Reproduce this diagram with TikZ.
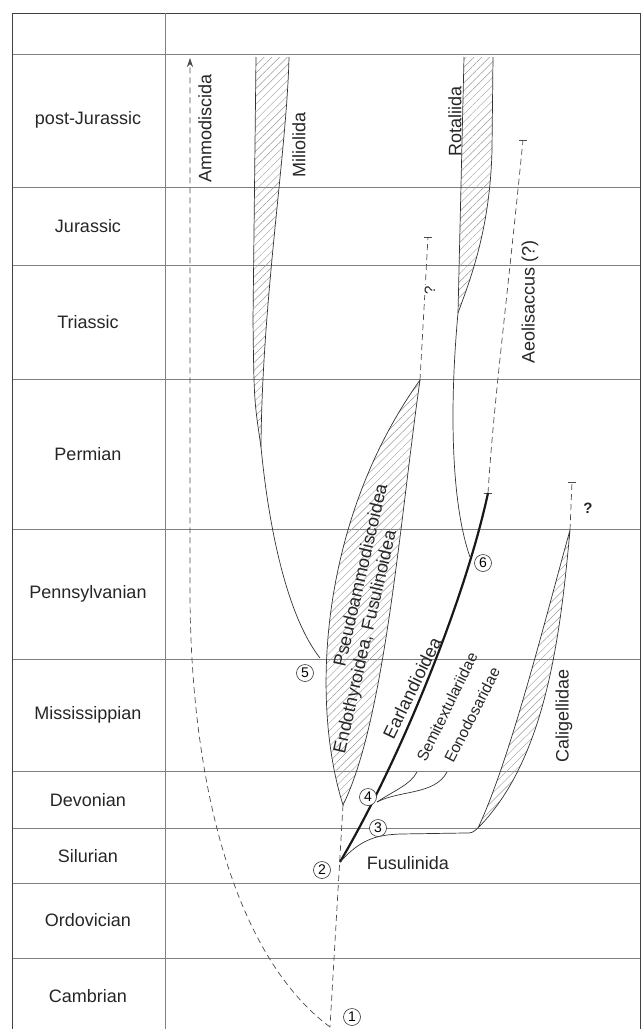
\documentclass[tikz,border=0pt]{standalone}
\usepackage{fontspec}
\setmainfont{Liberation Sans}
\usetikzlibrary{patterns.meta,arrows.meta}
\begin{document}
\begin{tikzpicture}[x=1pt,y=-1pt,
  grid/.style={draw=black!50,line width=0.7pt},
  frame/.style={draw=black!75,line width=0.9pt},
  branch/.style={draw=black!80,line width=0.7pt},
  thickbranch/.style={draw=black!90,line width=2.2pt},
  dashbranch/.style={draw=black!70,line width=0.7pt,dash pattern=on 6pt off 4pt},
  hatch/.style={pattern={Lines[angle=45,distance=5.5pt,line width=0.45pt]},pattern color=black!40},
  period/.style={font=\fontsize{18}{20}\selectfont,text=black!85},
  taxon/.style={font=\fontsize{18}{20}\selectfont,text=black!85,inner sep=0pt},
  smalltaxon/.style={font=\fontsize{15.5}{18}\selectfont,text=black!85,inner sep=0pt},
  num/.style={circle,draw=black!80,fill=white,line width=0.6pt,inner sep=0pt,minimum size=17pt,font=\fontsize{14}{14}\selectfont},
  endtick/.style={draw=black!70,line width=0.7pt}
]
\useasboundingbox (0,0) rectangle (642,1029);
% ---- grid ----
\foreach \yy in {54,187,265,379,529,659,771,828,883,958}
  \draw[grid] (12,\yy) -- (640,\yy);
\draw[frame] (12,1029) -- (12,13) -- (640,13) -- (640,1029);
\draw[grid] (165,13) -- (165,1029);
% ---- period labels ----
\node[period] (pj) at (88,120) {post-Jurassic};
\node[period] (ju) at (88,226) {Jurassic};
\node[period] (tr) at (88,322) {Triassic};
\node[period] (pe) at (88,454) {Permian};
\node[period] (pn) at (88,594) {Pennsylvanian};
\node[period] (mi) at (88,715) {Mississippian};
\node[period] (de) at (88,800) {Devonian};
\node[period] (si) at (88,856) {Silurian};
\node[period] (or) at (88,920) {Ordovician};
\node[period] (ca) at (88,996) {Cambrian};
% ---- key coordinates ----
\coordinate (root) at (330,1027);
\coordinate (lensBot) at (343,805);
\coordinate (lensTop) at (420,380);
\coordinate (j2) at (340,862);
\coordinate (j4) at (377,802);
\coordinate (j5) at (320,658);
\coordinate (j6) at (470,557);
\coordinate (thickTop) at (488,493);
\coordinate (caliBot) at (478,828);
\coordinate (caliTop) at (570,530);
\coordinate (ammTop) at (190,58);
\coordinate (pseTop) at (428,237);
\coordinate (aeoTop) at (523,140);
\coordinate (calTick) at (572,482);
\coordinate (semiEnd) at (417,772);
\coordinate (eonoEnd) at (447,772);
\coordinate (milJ) at (261,447);
\coordinate (rotJ) at (458,313);
% ---- Miliolida ----
\path[hatch] (256,57) -- (289,57) .. controls (287,150) and (262,300) .. (milJ)
  .. controls (254,400) .. (253,320) -- cycle;
\draw[branch] (256,57) -- (253,320) .. controls (254,400) .. (milJ)
  .. controls (270,540) and (290,620) .. (j5);
\draw[branch] (289,57) .. controls (287,150) and (262,300) .. (milJ);
% ---- Rotaliida ----
\path[hatch] (464,57) -- (493,57) -- (492,150) .. controls (490,230) and (470,280) .. (rotJ) -- cycle;
\draw[branch] (493,57) -- (492,150) .. controls (490,230) and (470,280) .. (rotJ);
\draw[branch] (464,57) -- (rotJ) .. controls (450,400) and (450,500) .. (j6);
% ---- Pseudoammodiscoidea lens ----
\path[hatch] (lensTop) .. controls (400,520) and (385,720) .. (lensBot)
  .. controls (310,700) and (320,520) .. (lensTop) -- cycle;
\draw[branch] (lensTop) .. controls (400,520) and (385,720) .. (lensBot)
  .. controls (310,700) and (320,520) .. (lensTop);
% ---- Caligellidae lens ----
\path[hatch] (caliBot) .. controls (510,760) and (545,620) .. (caliTop)
  .. controls (560,640) and (545,760) .. (caliBot) -- cycle;
\draw[branch] (caliBot) .. controls (510,760) and (545,620) .. (caliTop)
  .. controls (560,640) and (545,760) .. (caliBot);
% ---- dashed stems ----
\draw[dashbranch] (lensBot) -- (root);
\draw[dashbranch,-{Stealth[length=9pt,width=6pt]}] (root) .. controls (240,960) and (192,800) .. (190,600) -- (ammTop);
\draw[dashbranch] (lensTop) -- (pseTop);
\draw[dashbranch] (thickTop) .. controls (494,400) and (505,320) .. (aeoTop);
\draw[dashbranch] (caliTop) -- (calTick);
\foreach \c in {pseTop,aeoTop,thickTop,calTick}
  \draw[endtick] ([xshift=-4pt]\c) -- ([xshift=4pt]\c);
% ---- solid branches ----
\draw[thickbranch] (j2) .. controls (400,760) and (465,600) .. (thickTop);
\draw[branch] (j2) .. controls (360,840) and (375,835) .. (400,834) -- (465,833) .. controls (472,833) .. (caliBot);
\draw[branch] (j4) .. controls (395,790) and (410,785) .. (semiEnd);
\draw[branch] (j4) .. controls (400,790) and (435,795) .. (eonoEnd);
% ---- question marks ----
\node[font=\fontsize{15}{15}\selectfont,text=black!85,fill=white,inner sep=1pt,rotate=90] (q1) at (430,290) {?};
\node[font=\bfseries\fontsize{15}{15}\selectfont,text=black!85] (q2) at (588,508) {?};
% ---- taxon labels ----
\node[taxon,rotate=90] (amm) at (205,128) {Ammodiscida};
\node[taxon,rotate=90] (mil) at (299,145) {Miliolida};
\node[taxon,rotate=90] (rot) at (455,121) {Rotaliida};
\node[taxon,rotate=90] (aeo) at (530,302) {Aeolisaccus (?)};
\node[taxon,rotate=77] (pse) at (360,575) {Pseudoammodiscoidea};
\node[taxon,rotate=77] (endo) at (366,642) {Endothyroidea, Fusulinoidea};
\node[taxon,rotate=64] (earl) at (412,688) {Earlandioidea};
\node[smalltaxon,rotate=64] (semi) at (447,707) {Semitextulariidae};
\node[smalltaxon,rotate=63] (eono) at (472,715) {Eonodosaridae};
\node[taxon,rotate=90] (cali) at (564,716) {Caligellidae};
\node[taxon] (fus) at (408,863) {Fusulinida};
% ---- numbered nodes ----
\node[num] (n1) at (352,1017) {1};
\node[num] (n2) at (322,870) {2};
\node[num] (n3) at (378,828) {3};
\node[num] (n4) at (368,797) {4};
\node[num] (n5) at (305,673) {5};
\node[num] (n6) at (483,563) {6};
\end{tikzpicture}
\end{document}
